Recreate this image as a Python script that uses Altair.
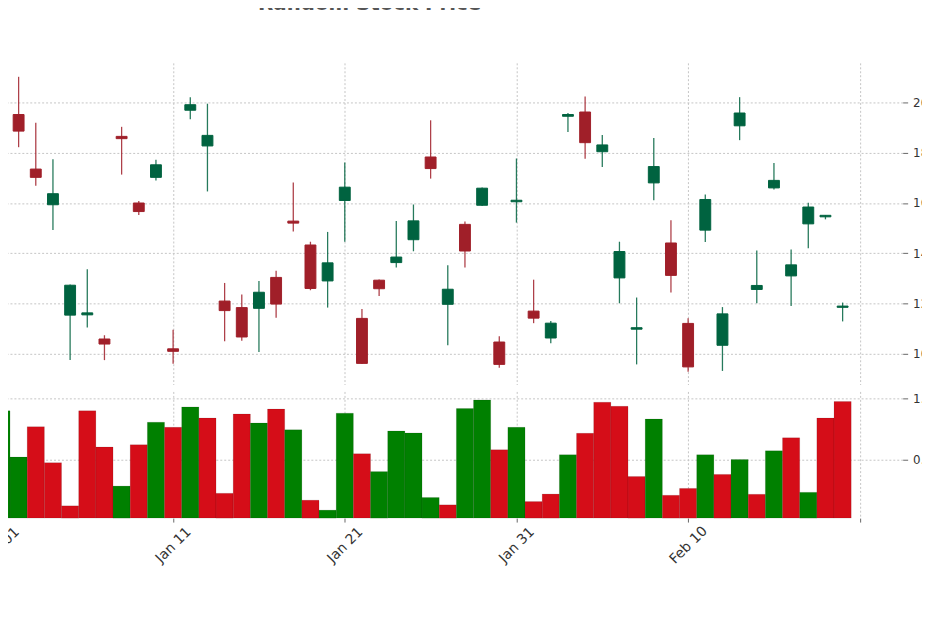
import altair as alt
import pandas as pd

# ---- data -------------------------------------------------------------
dates = pd.date_range("2024-01-01", periods=50, freq="D").strftime("%Y-%m-%dT00:00:00").tolist()
opens = [137.0, 195.2, 173.5, 159.3, 115.4, 115.5, 105.9, 186.5, 160.0, 170.2,
         102.0, 196.9, 182.7, 121.0, 118.4, 118.1, 130.4, 152.8, 143.3, 129.0,
         161.0, 114.1, 129.3, 136.3, 145.4, 178.3, 119.7, 151.5, 159.1, 104.7,
         160.5, 117.0, 106.3, 194.5, 196.2, 180.4, 130.2, 109.8, 168.0, 144.1,
         112.1, 149.2, 103.4, 190.7, 125.6, 166.0, 131.0, 151.7, 154.5, 118.5]
highs = [156.7, 210.2, 191.9, 177.4, 127.6, 133.6, 107.4, 190.3, 160.8, 177.2,
         109.6, 202.1, 199.5, 128.2, 123.6, 129.0, 133.1, 168.2, 144.6, 148.5,
         176.1, 117.8, 129.6, 152.8, 159.4, 192.9, 135.2, 152.6, 166.2, 107.0,
         177.7, 129.5, 113.1, 195.8, 202.4, 187.1, 144.6, 122.4, 185.9, 153.1,
         114.2, 163.4, 118.6, 202.1, 141.1, 175.9, 141.5, 160.1, 155.2, 120.4]
lows = [136.5, 182.2, 166.9, 149.3, 97.5, 110.5, 97.5, 171.3, 155.2, 169.0,
        96.1, 193.3, 164.6, 105.0, 105.2, 100.7, 114.4, 148.7, 125.3, 118.4,
        144.6, 96.0, 123.0, 134.3, 140.8, 169.7, 103.4, 134.3, 158.8, 94.5,
        152.2, 112.2, 104.2, 188.2, 177.6, 174.3, 120.1, 95.8, 161.1, 124.4,
        92.9, 144.5, 93.2, 185.0, 120.1, 165.4, 119.0, 142.0, 153.5, 112.9]
closes = [155.1, 188.6, 170.2, 163.7, 127.3, 116.3, 103.9, 185.6, 156.6, 175.2,
          101.0, 199.1, 186.9, 117.2, 106.7, 124.5, 119.8, 152.0, 126.0, 136.2,
          166.3, 96.2, 125.9, 138.5, 152.9, 173.7, 125.7, 140.9, 165.9, 95.8,
          161.1, 114.2, 112.2, 195.2, 184.0, 183.1, 140.7, 110.4, 174.5, 131.2,
          94.8, 161.4, 115.9, 195.8, 127.2, 169.0, 135.4, 158.4, 155.1, 119.0]
volumes = [0.898, 0.521, 0.769, 0.476, 0.124, 0.898, 0.603, 0.285, 0.622, 0.805,
           0.764, 0.930, 0.839, 0.226, 0.872, 0.799, 0.912, 0.743, 0.170, 0.089,
           0.879, 0.549, 0.403, 0.734, 0.718, 0.192, 0.132, 0.917, 0.987, 0.581,
           0.764, 0.159, 0.220, 0.541, 0.715, 0.968, 0.935, 0.363, 0.831, 0.210,
           0.266, 0.541, 0.380, 0.501, 0.218, 0.572, 0.678, 0.234, 0.839, 0.974]
price_ticks = [100, 120, 140, 160, 180, 200]
volume_ticks = [0.5, 1.0]
volume_domain = [0.024, 1.056]
title_text = "Random Stock Price"

candle_dir = ["up" if c >= o else "down" for o, c in zip(opens, closes)]
vol_dir = ["up"] + ["up" if closes[i] >= closes[i - 1] else "down" for i in range(1, len(closes))]

df = pd.DataFrame({"date": dates, "open": opens, "high": highs, "low": lows,
                   "close": closes, "volume": volumes,
                   "candle": candle_dir, "vdir": vol_dir})

# ---- scales / axes -----------------------------------------------------
xscale = alt.Scale(domain=[alt.DateTime(year=2023, month=12, date=28),
                           alt.DateTime(year=2024, month=2, date=22, hours=12)],
                   padding=0)
xticks = [alt.DateTime(year=2024, month=1, date=d) for d in (1, 11, 21, 31)] + \
         [alt.DateTime(year=2024, month=2, date=d) for d in (10, 20)]
GRID = dict(grid=True, gridDash=[2, 2], gridColor="#c4c4c4", gridWidth=1)

x_top = alt.X("date:T", scale=xscale, title=None,
              axis=alt.Axis(values=xticks, labels=False, ticks=False, domain=False, **GRID))
x_bot = alt.X("date:T", scale=xscale, title=None,
              axis=alt.Axis(values=xticks, domain=False, ticks=True, tickSize=4,
                            labelAngle=315, labelAlign="center", labelBaseline="middle",
                            labelPadding=23, labelFontSize=14,
                            labelExpr="timeFormat(datum.value, '%b %d') == 'Feb 20' ? '' : timeFormat(datum.value, '%b %d')",
                            **GRID))

candle_colors = alt.Scale(domain=["up", "down"], range=["#006340", "#a01f29"])
volume_colors = alt.Scale(domain=["up", "down"], range=["#008000", "#d50d18"])

yscale = alt.Scale(domain=[87.8, 215.75], nice=False, zero=False)
yaxis = alt.Axis(orient="right", values=price_ticks, domain=False, tickSize=5,
                 labelPadding=5, **GRID)

base = alt.Chart(df).encode(x=x_top)
wick = base.mark_rule(strokeWidth=1.3, opacity=0.85).encode(
    y=alt.Y("low:Q", scale=yscale, axis=yaxis, title=None),
    y2="high:Q",
    color=alt.Color("candle:N", scale=candle_colors, legend=None),
)
body = base.mark_bar(width=11, strokeWidth=1).encode(
    y=alt.Y("open:Q", scale=yscale, axis=yaxis, title=None),
    y2="close:Q",
    color=alt.Color("candle:N", scale=candle_colors, legend=None),
    stroke=alt.Color("candle:N", scale=candle_colors, legend=None),
)
upper = (wick + body).properties(width=980, height=325)

vol = alt.Chart(df).mark_bar(width=17.35, stroke="#000000", strokeWidth=0.6, strokeOpacity=0.18).encode(
    x=x_bot,
    y=alt.Y("volume:Q", scale=alt.Scale(domain=volume_domain, nice=False, zero=False), title=None,
            axis=alt.Axis(orient="right", values=volume_ticks, format=".1f",
                          domain=False, tickSize=5, labelPadding=5, **GRID)),
    y2=alt.datum(volume_domain[0]),
    color=alt.Color("vdir:N", scale=volume_colors, legend=None),
).properties(width=980, height=128)

chart = alt.vconcat(upper, vol, spacing=5).resolve_scale(
    color="independent", stroke="independent"
).properties(
    title=alt.Title(title_text, fontSize=20, fontWeight="bold", color="#555555",
                    font="DejaVu Sans", anchor="middle", offset=48.5, dx=-65),
    padding={"left": -77, "top": -16.5, "right": -14.5, "bottom": 0},
).configure_view(stroke="transparent").configure_axis(
    labelFont="DejaVu Sans", labelFontSize=12, labelColor="#333333",
    tickColor="#666666", tickWidth=1,
)

chart.save("out.html", embed_options={"renderer": "svg", "actions": False})
